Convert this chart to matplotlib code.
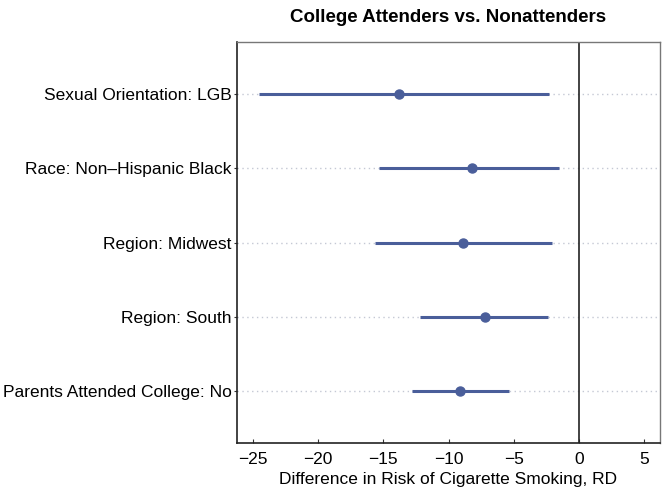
import matplotlib
matplotlib.use("Agg")
import matplotlib.pyplot as plt

plt.rcParams['font.family'] = ['Liberation Sans', 'DejaVu Sans']

# --- Данные ---
categories = [
    "Sexual Orientation: LGB",
    "Race: Non\u2013Hispanic Black",
    "Region: Midwest",
    "Region: South",
    "Parents Attended College: No",
]
estimates = [-13.8, -8.2, -8.9, -7.2, -9.1]
lower_ci = [-24.5, -15.3, -15.6, -12.2, -12.8]
upper_ci = [-2.3, -1.5, -2.1, -2.4, -5.4]

x_ticks = [-25, -20, -15, -10, -5, 0, 5]
point_color = '#4a5e9a'

figure = plt.figure(figsize=(6.64, 4.98), dpi=100)
axes = figure.add_axes([0.357, 0.110, 0.637, 0.806])

y_positions = list(range(1, len(categories) + 1))

for y in y_positions:
    axes.axhline(y, color='#c4c8d4', linestyle=(0, (1, 2.5)), linewidth=1.0, zorder=1)

axes.axvline(0, color='#222222', linewidth=1.2, zorder=2)

for y, est, lo, hi in zip(y_positions, estimates, lower_ci, upper_ci):
    axes.plot([lo, hi], [y, y], color=point_color, linewidth=2.2, solid_capstyle='butt', zorder=3)
    axes.plot(est, y, 'o', color=point_color, markersize=6.5, zorder=4)

axes.set_xlim(-26.2, 6.2)
axes.set_ylim(5.7, 0.3)
axes.set_xticks(x_ticks)
axes.set_xticklabels([str(t).replace('-', '\u2212') for t in x_ticks])
axes.set_yticks(y_positions)
axes.set_yticklabels(categories)
axes.tick_params(axis='both', labelsize=12.5, width=0.8, color='#333333')
axes.tick_params(axis='x', direction='in', length=3, pad=6)
axes.tick_params(axis='y', direction='out', length=2, pad=2)

for side in ['left', 'bottom']:
    axes.spines[side].set_color('#222222')
    axes.spines[side].set_linewidth(1.2)
for side in ['top', 'right']:
    axes.spines[side].set_color('#777777')
    axes.spines[side].set_linewidth(1.0)

axes.set_xlabel('Difference in Risk of Cigarette Smoking, RD', fontsize=12.5, labelpad=4)
axes.set_title('College Attenders vs. Nonattenders', fontsize=13.5, fontweight='bold', pad=14)

figure.savefig('out.png', dpi=100)
plt.close(figure)
